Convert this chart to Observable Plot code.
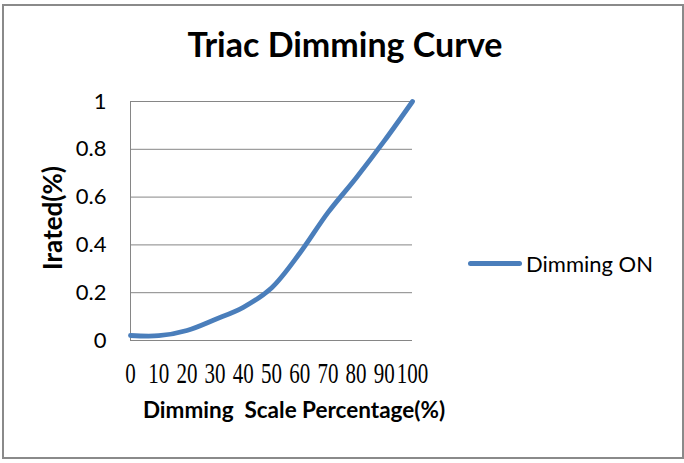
<!DOCTYPE html>
<html><head><meta charset="utf-8">
<script src="https://cdn.jsdelivr.net/npm/d3@7"></script>
<script src="https://cdn.jsdelivr.net/npm/@observablehq/plot@0.6"></script>
<style>
body{margin:0;background:#fff;}
#wrap{position:relative;width:684px;height:463px;overflow:hidden;background:#fff;}
#frame{position:absolute;left:2px;top:4px;width:678px;height:451px;border:2px solid #8a8a8a;}
#chart{position:absolute;left:0;top:0;}
.lbl{position:absolute;white-space:pre;font-family:Lato,"Open Sans",sans-serif;color:#000;line-height:normal;}
#title{left:0;width:690px;top:23px;text-align:center;font-weight:bold;font-size:34px;}
#ylab{left:52px;top:218px;font-weight:bold;font-size:26px;transform:translate(-50%,-50%) rotate(-90deg);}
#xlab{left:294px;top:396px;font-weight:bold;font-size:22.5px;transform:translateX(-50%);}
#legend{left:468px;top:250px;font-size:22px;display:flex;align-items:center;}
#legend .sw{display:inline-block;width:54px;height:5px;border-radius:3px;background:#4a7ebb;margin-right:4px;}
</style>
</head><body>
<div id="wrap">
  <div id="frame"></div>
  <div id="chart"></div>
  <div class="lbl" id="title">Triac Dimming Curve</div>
  <div class="lbl" id="ylab">Irated(%)</div>
  <div class="lbl" id="xlab">Dimming  Scale Percentage(%)</div>
  <div class="lbl" id="legend"><span class="sw"></span><span>Dimming ON</span></div>
</div>
<script>
const scalePct = [0, 10, 20, 30, 40, 50, 60, 70, 80, 90, 100];
const dimmingOn = [0.021, 0.02, 0.042, 0.088, 0.139, 0.22, 0.365, 0.535, 0.68, 0.835, 1.0];
const yTicks = [0, 0.2, 0.4, 0.6, 0.8, 1];
const yTickLabels = ["0", "0.2", "0.4", "0.6", "0.8", "1"];

const data = scalePct.map((x, i) => ({x, y: dimmingOn[i]}));

const chart = Plot.plot({
  width: 684,
  height: 463,
  marginLeft: 130,
  marginRight: 272,
  marginTop: 101,
  marginBottom: 123,
  style: {background: "transparent", fontFamily: "Lato, sans-serif", color: "#000"},
  x: {domain: [0, 100], label: null},
  y: {domain: [0, 1], label: null},
  marks: [
    Plot.gridY(yTicks, {stroke: "#868686", strokeOpacity: 1, strokeWidth: 1}),
    Plot.ruleX([0], {stroke: "#868686", strokeWidth: 1}),
    Plot.axisY(yTicks, {tickSize: 0, tickPadding: 24, fontSize: 22, fontFamily: "Lato, sans-serif",
      tickFormat: d => yTickLabels[yTicks.indexOf(d)], label: null}),
    Plot.axisX(scalePct, {tickSize: 0, tickPadding: 26, fontSize: 21, fontFamily: "'Liberation Serif', serif",
      tickFormat: d => String(d), label: null}),
    Plot.line(data, {x: "x", y: "y", stroke: "#4a7ebb", strokeWidth: 4.8, curve: "catmull-rom", strokeLinecap: "round", strokeLinejoin: "round"})
  ]
});
// stretch the condensed serif x tick labels vertically, with the baseline at a fixed offset below the axis
d3.select(chart).selectAll('g[aria-label="x-axis tick label"] text').each(function() {
  const t = this.getAttribute("transform") || "";
  const m = /translate\(([-\d.e]+),\s*([-\d.e]+)\)/.exec(t);
  if (m) {
    this.setAttribute("transform", `translate(${m[1]},${+m[2] + 16}) scale(1,1.36)`);
    this.removeAttribute("dy");
    this.setAttribute("y", "0");
  }
});
document.getElementById("chart").appendChild(chart);
</script>
</body></html>
